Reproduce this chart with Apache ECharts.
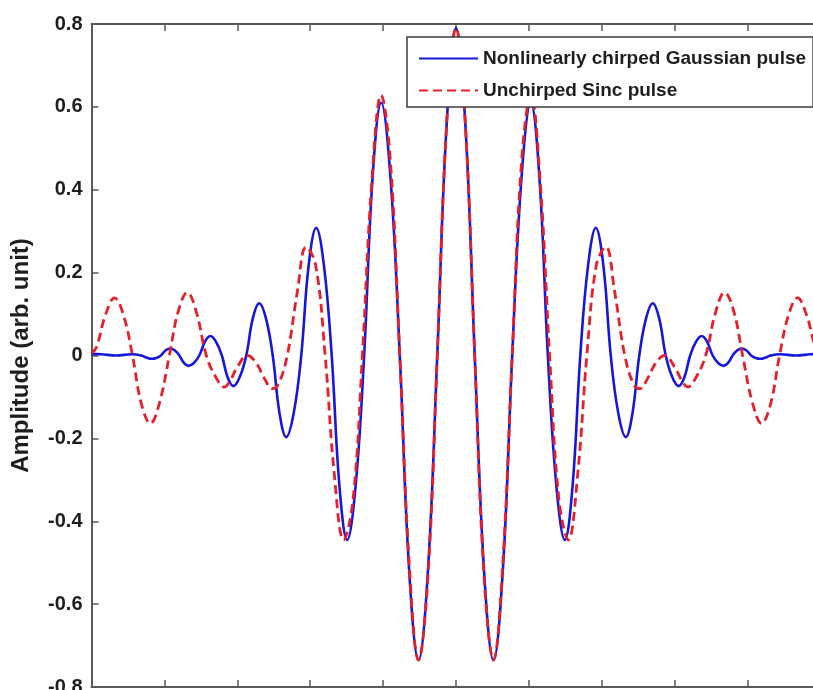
<!DOCTYPE html>
<html>
<head>
<meta charset="utf-8">
<script src="https://cdn.jsdelivr.net/npm/echarts@6/dist/echarts.min.js"></script>
<style>
  html, body { margin: 0; padding: 0; background: #ffffff; }
  #chart { width: 813px; height: 690px; }
</style>
</head>
<body>
<div id="chart"></div>
<script>
// Time axis (arb. units, one tick per unit) and pulse amplitudes
const sincTime = [
  -5.0, -4.932, -4.808, -4.685, -4.562, -4.438, -4.315, -4.192, -4.068, -3.932,
  -3.808, -3.685, -3.562, -3.425, -3.301, -3.178, -3.096, -3.0, -2.863, -2.74,
  -2.63, -2.521, -2.438, -2.315, -2.178, -2.055, -1.926, -1.795, -1.671, -1.541,
  -1.411, -1.284, -1.156, -1.027, -0.899, -0.771, -0.642, -0.514, -0.385, -0.257,
  -0.129, 0,
  0.129, 0.257, 0.385, 0.514, 0.642, 0.771, 0.899, 1.027, 1.156, 1.284,
  1.411, 1.541, 1.671, 1.795, 1.926, 2.055, 2.178, 2.315, 2.438, 2.521,
  2.63, 2.74, 2.863, 3.0, 3.096, 3.178, 3.301, 3.425, 3.562, 3.685,
  3.808, 3.932, 4.068, 4.192, 4.315, 4.438, 4.562, 4.685, 4.808, 4.932, 5.0
];
const sincAmp = [
  0.005, 0.02, 0.098, 0.139, 0.098, 0, -0.117, -0.164, -0.115, 0,
  0.108, 0.152, 0.105, 0, -0.05, -0.076, -0.06, -0.028, 0.0, -0.018,
  -0.055, -0.08, -0.07, 0, 0.152, 0.262, 0.219, 0, -0.283, -0.445,
  -0.346, 0, 0.417, 0.628, 0.467, 0, -0.502, -0.735, -0.534, 0,
  0.556, 0.79,
  0.556, 0, -0.534, -0.735, -0.502, 0, 0.467, 0.628, 0.417, 0,
  -0.346, -0.445, -0.283, 0, 0.219, 0.262, 0.152, 0, -0.07, -0.08,
  -0.055, -0.018, 0.0, -0.028, -0.06, -0.076, -0.05, 0, 0.105, 0.152,
  0.108, 0, -0.115, -0.164, -0.117, 0, 0.098, 0.139, 0.098, 0.02, 0.005
];

const gaussTime = [
  -5.0, -4.863, -4.658, -4.452, -4.315, -4.247, -4.178, -4.11, -4.048, -3.986,
  -3.918, -3.856, -3.795, -3.733, -3.671, -3.596, -3.521, -3.445, -3.37, -3.291,
  -3.212, -3.134, -3.055, -2.966, -2.877, -2.788, -2.699, -2.606, -2.514, -2.421,
  -2.329, -2.226, -2.123, -2.021, -1.918, -1.812, -1.705, -1.599, -1.493, -1.377,
  -1.26, -1.144, -1.027, -0.899, -0.771, -0.642, -0.514, -0.385, -0.257, -0.129,
  0,
  0.129, 0.257, 0.385, 0.514, 0.642, 0.771, 0.899, 1.027, 1.144, 1.26,
  1.377, 1.493, 1.599, 1.705, 1.812, 1.918, 2.021, 2.123, 2.226, 2.329,
  2.421, 2.514, 2.606, 2.699, 2.788, 2.877, 2.966, 3.055, 3.134, 3.212,
  3.291, 3.37, 3.445, 3.521, 3.596, 3.671, 3.733, 3.795, 3.856, 3.918,
  3.986, 4.048, 4.11, 4.178, 4.247, 4.315, 4.452, 4.658, 4.863, 5.0
];
const gaussAmp = [
  0.004, 0.003, 0.0, 0.003, 0, -0.005, -0.008, -0.006, 0, 0.012,
  0.017, 0.012, 0, -0.018, -0.025, -0.018, 0, 0.033, 0.047, 0.033,
  0, -0.052, -0.074, -0.052, 0, 0.089, 0.126, 0.089, 0, -0.139,
  -0.197, -0.139, 0, 0.218, 0.308, 0.218, 0, -0.315, -0.445, -0.315,
  0, 0.43, 0.61, 0.43, 0, -0.52, -0.735, -0.52, 0, 0.556,
  0.79,
  0.556, 0, -0.52, -0.735, -0.52, 0, 0.43, 0.61, 0.43, 0,
  -0.315, -0.445, -0.315, 0, 0.218, 0.308, 0.218, 0, -0.139, -0.197,
  -0.139, 0, 0.089, 0.126, 0.089, 0, -0.052, -0.074, -0.052, 0,
  0.033, 0.047, 0.033, 0, -0.018, -0.025, -0.018, 0, 0.012, 0.017,
  0.012, 0, -0.006, -0.008, -0.005, 0, 0.003, 0.0, 0.003, 0.004
];

const seriesNames = ['Nonlinearly chirped Gaussian pulse', 'Unchirped Sinc pulse'];
const yTicks = { min: -0.8, max: 0.8, step: 0.2 };
const xTicks = { min: -5, max: 5, step: 1 };

const pairs = (xs, ys) => xs.map((x, i) => [x, ys[i]]);

const FRAME = '#5a5a5a';
const INK = '#1e1e1e';
const FONT = '"Liberation Sans", Arial, Helvetica, sans-serif';
const BLUE = '#1616dc';
const RED = '#e6202a';

function frameAxis(extra) {
  return Object.assign({
    type: 'value',
    axisLine: { show: true, onZero: false, lineStyle: { color: FRAME, width: 2 } },
    axisTick: { show: true, inside: true, length: 7, lineStyle: { color: FRAME, width: 1.5 } },
    splitLine: { show: false },
    axisLabel: { show: false }
  }, extra);
}

const chart = echarts.init(document.getElementById('chart'), null, { renderer: 'canvas' });
chart.setOption({
  backgroundColor: '#ffffff',
  animation: false,
  // the box runs on past the right edge of the canvas
  grid: { left: 91.5, top: 24, width: 729, height: 663, outerBoundsMode: 'none', containLabel: false },
  xAxis: [
    frameAxis({ position: 'bottom', min: xTicks.min, max: xTicks.max, interval: xTicks.step }),
    frameAxis({ position: 'top', min: xTicks.min, max: xTicks.max, interval: xTicks.step })
  ],
  yAxis: [
    frameAxis({
      position: 'left', min: yTicks.min, max: yTicks.max, interval: yTicks.step,
      name: 'Amplitude (arb. unit)',
      nameLocation: 'middle',
      nameGap: 58,
      nameTextStyle: { fontFamily: FONT, fontWeight: 'bold', fontSize: 24, color: INK },
      axisLabel: {
        show: true, margin: 9, fontFamily: FONT, fontWeight: 'bold', fontSize: 20, color: INK,
        formatter: v => String(Math.round(v * 10) / 10)
      }
    }),
    frameAxis({ position: 'right', min: yTicks.min, max: yTicks.max, interval: yTicks.step })
  ],
  legend: {
    left: 407, top: 37,
    orient: 'vertical',
    backgroundColor: '#ffffff',
    borderColor: '#3c3c3c', borderWidth: 1.5, borderRadius: 0,
    padding: [12, 7, 7, 11],
    itemGap: 13,
    itemWidth: 59, itemHeight: 14,
    itemStyle: { opacity: 0 },
    textStyle: { fontFamily: FONT, fontWeight: 'bold', fontSize: 19, color: INK },
    data: seriesNames
  },
  series: [
    {
      name: seriesNames[0], type: 'line', data: pairs(gaussTime, gaussAmp),
      smooth: 0.4, showSymbol: false, symbol: 'none',
      lineStyle: { color: BLUE, width: 2.6, type: 'solid' },
      itemStyle: { color: BLUE }
    },
    {
      name: seriesNames[1], type: 'line', data: pairs(sincTime, sincAmp),
      smooth: 0.4, showSymbol: false, symbol: 'none',
      lineStyle: { color: RED, width: 2.8, type: [9, 5] },
      itemStyle: { color: RED }
    }
  ]
});
</script>
</body>
</html>
